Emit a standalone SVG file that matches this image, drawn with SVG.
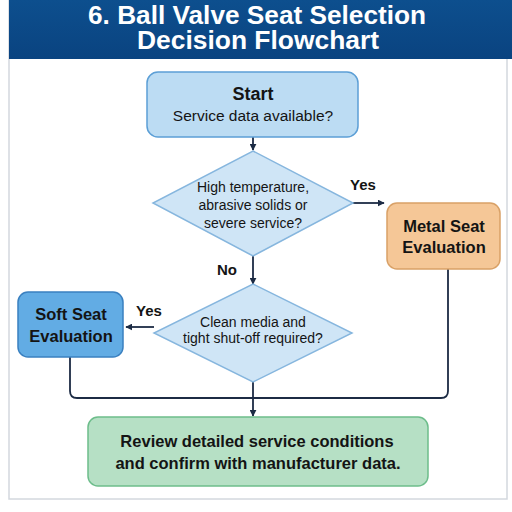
<svg xmlns="http://www.w3.org/2000/svg" width="512" height="512" viewBox="0 0 512 512">
  <defs>
    <marker id="arr" viewBox="0 0 10 10" refX="9" refY="5" markerWidth="7" markerHeight="7" markerUnits="userSpaceOnUse" orient="auto">
      <path d="M0,0 L10,5 L0,10 Z" fill="#1c2b44"/>
    </marker>
    <linearGradient id="hdr" x1="0" y1="0" x2="0" y2="1">
      <stop offset="0" stop-color="#0d4f8e"/>
      <stop offset="1" stop-color="#0a4380"/>
    </linearGradient>
  </defs>
  <style>
    .t { font-family: "Liberation Sans", Arial, sans-serif; fill: #141414; text-anchor: middle; }
    .b { font-weight: bold; }
    .title { font-family: "Liberation Sans", Arial, sans-serif; font-weight: bold; fill: #ffffff; text-anchor: middle; font-size: 25px; }
    .conn { fill: none; stroke: #1c2b44; stroke-width: 1.8; }
    .lbl { font-family: "Liberation Sans", Arial, sans-serif; fill: #141414; font-size: 15px; font-weight: bold; }
  </style>
  <rect x="0" y="0" width="512" height="512" fill="#ffffff"/>
  <rect x="9" y="-2" width="498" height="501" fill="#ffffff" stroke="#d3d8de" stroke-width="1.5"/>
  <g id="header">
    <rect x="9" y="0" width="503" height="59" fill="url(#hdr)"/>
    <text class="title" x="257" y="23.5" textLength="338" lengthAdjust="spacingAndGlyphs">6. Ball Valve Seat Selection</text>
    <text class="title" x="258" y="49" textLength="242" lengthAdjust="spacingAndGlyphs">Decision Flowchart</text>
  </g>
  <g id="connectors">
    <line class="conn" x1="253" y1="137" x2="253" y2="150" marker-end="url(#arr)"/>
    <line class="conn" x1="353" y1="203" x2="384" y2="203" marker-end="url(#arr)"/>
    <line class="conn" x1="253" y1="256" x2="253" y2="284" marker-end="url(#arr)"/>
    <line class="conn" x1="154" y1="327" x2="126" y2="327" marker-end="url(#arr)"/>
    <path class="conn" d="M448,269 V391 Q448,398 441,398 H77 Q70,398 70,391 V357"/>
    <line class="conn" x1="253" y1="382" x2="253" y2="416" marker-end="url(#arr)"/>
    <text class="lbl" x="350" y="190">Yes</text>
    <text class="lbl" x="217" y="275">No</text>
    <text class="lbl" x="136" y="316">Yes</text>
  </g>
  <g id="start">
    <rect x="147" y="72" width="211" height="65" rx="11" fill="#bcdcf3" stroke="#5c9fd6" stroke-width="1.5"/>
    <text class="t b" x="253" y="100" font-size="18">Start</text>
    <text class="t" x="253" y="121" font-size="15.5">Service data available?</text>
  </g>
  <g id="decision1">
    <polygon points="253,151 353,203 253,256 153,203" fill="#cfe5f6" stroke="#86b6de" stroke-width="1.5"/>
    <text class="t" x="253" y="192" font-size="14">High temperature,</text>
    <text class="t" x="253" y="210" font-size="14">abrasive solids or</text>
    <text class="t" x="253" y="228" font-size="14">severe service?</text>
  </g>
  <g id="metal">
    <rect x="387" y="203" width="113" height="66" rx="10" fill="#f5c797" stroke="#d9a167" stroke-width="1.5"/>
    <text class="t b" x="444" y="232" font-size="16.5">Metal Seat</text>
    <text class="t b" x="444" y="253" font-size="16.5">Evaluation</text>
  </g>
  <g id="decision2">
    <polygon points="253,284 352,333 253,382 154,333" fill="#cfe5f6" stroke="#86b6de" stroke-width="1.5"/>
    <text class="t" x="253" y="327" font-size="14">Clean media and</text>
    <text class="t" x="253" y="343" font-size="14">tight shut-off required?</text>
  </g>
  <g id="soft">
    <rect x="18" y="292" width="105" height="65" rx="10" fill="#62ace4" stroke="#3a80c0" stroke-width="1.5"/>
    <text class="t b" x="71" y="320" font-size="16.5">Soft Seat</text>
    <text class="t b" x="71" y="342" font-size="16.5">Evaluation</text>
  </g>
  <g id="review">
    <rect x="88" y="417" width="340" height="69" rx="10" fill="#b6e0c5" stroke="#6dbd8b" stroke-width="1.5"/>
    <text class="t b" x="257" y="447" font-size="16.5">Review detailed service conditions</text>
    <text class="t b" x="258" y="469" font-size="16.5">and confirm with manufacturer data.</text>
  </g>
</svg>
